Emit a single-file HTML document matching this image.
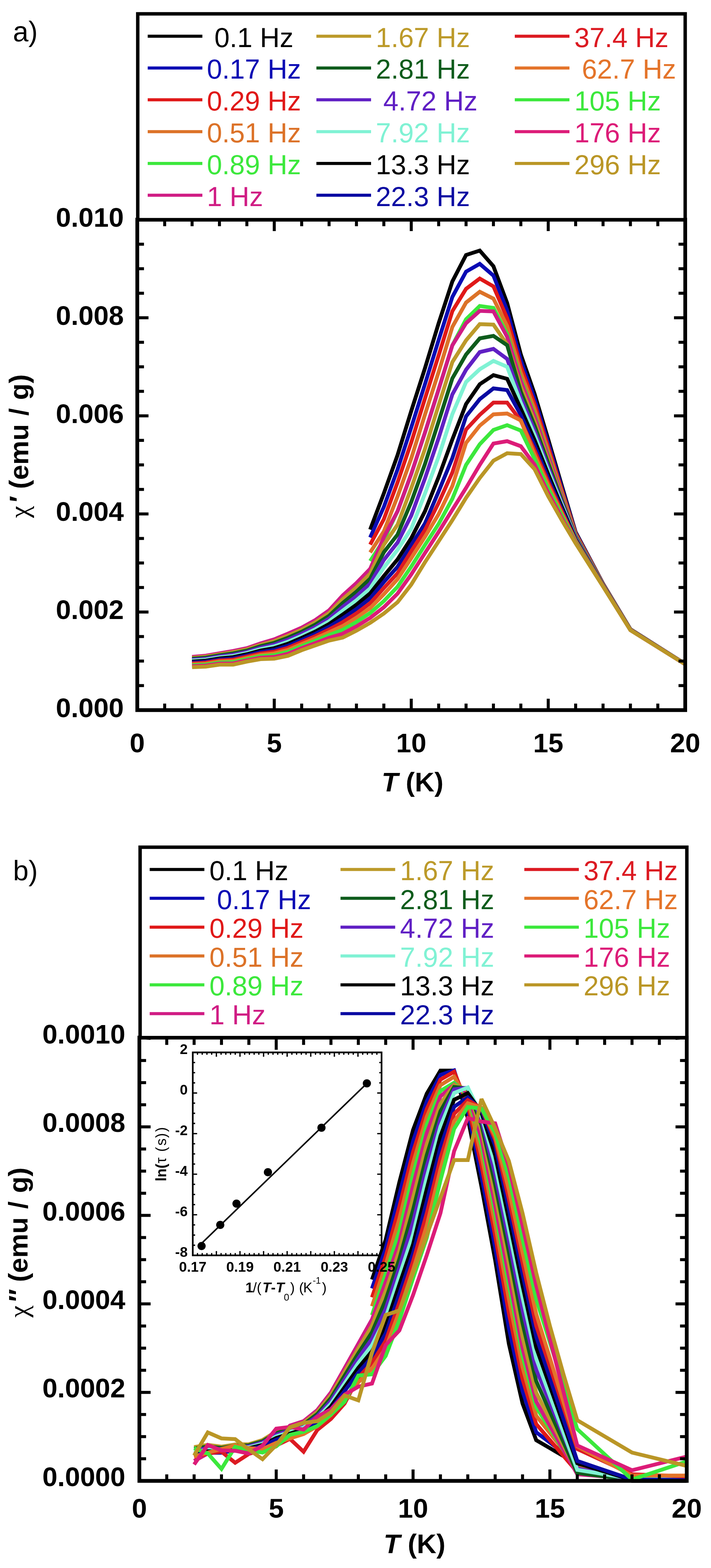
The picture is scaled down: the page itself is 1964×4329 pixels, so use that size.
<!DOCTYPE html>
<html><head><meta charset="utf-8"><title>chi ac</title>
<style>html,body{margin:0;padding:0;background:#fff;} svg{display:block;}</style>
</head><body>
<svg width="1964" height="4329" viewBox="0 0 1964 4329"><rect width="1964" height="4329" fill="#fff"/><text x="35.7" y="113.5" font-family="'Liberation Sans', Arial, Helvetica, sans-serif" font-size="77">a)</text><g fill="none" stroke-width="10.6" stroke-linejoin="miter" stroke-miterlimit="3" stroke-linecap="butt"><polyline points="1022.5,1462.2 1060.3,1362.0 1098.2,1256.4 1136.0,1134.6 1173.8,1016.8 1211.7,892.2 1249.5,777.1 1287.4,704.0 1325.2,691.8 1363.0,735.1 1400.9,836.7 1438.7,978.8 1476.6,1087.2 1514.4,1213.1 1552.2,1341.7 1590.1,1469.0 1665.8,1611.2 1741.4,1737.1 1892.8,1833.2" stroke="#000000"/><polyline points="1022.5,1483.8 1060.3,1399.3 1098.2,1295.7 1136.0,1179.9 1173.8,1060.6 1211.7,938.5 1249.5,819.9 1287.4,750.0 1325.2,728.4 1363.0,760.9 1400.9,857.2 1438.7,994.9 1476.6,1100.9 1514.4,1223.5 1552.2,1348.0 1590.1,1471.1 1665.8,1611.7 1741.4,1737.3 1892.8,1833.3" stroke="#0A0AB4"/><polyline points="1022.5,1503.6 1060.3,1433.4 1098.2,1331.6 1136.0,1221.3 1173.8,1100.6 1211.7,980.9 1249.5,859.1 1287.4,797.4 1325.2,769.0 1363.0,790.6 1400.9,878.7 1438.7,1011.8 1476.6,1115.2 1514.4,1234.3 1552.2,1354.5 1590.1,1473.2 1665.8,1612.3 1741.4,1737.5 1892.8,1833.3" stroke="#E01818"/><polyline points="1022.5,1525.2 1060.3,1467.1 1098.2,1370.4 1136.0,1265.3 1173.8,1144.8 1211.7,1026.7 1249.5,902.7 1287.4,835.3 1325.2,805.5 1363.0,824.5 1400.9,900.2 1438.7,1028.6 1476.6,1129.6 1514.4,1245.1 1552.2,1361.1 1590.1,1475.4 1665.8,1612.8 1741.4,1737.6 1892.8,1833.4" stroke="#DC7228"/><polyline points="1022.5,1548.9 1060.3,1490.8 1098.2,1411.3 1136.0,1308.4 1173.8,1194.5 1211.7,1074.7 1249.5,953.5 1287.4,881.4 1325.2,844.8 1363.0,850.2 1400.9,922.3 1438.7,1045.9 1476.6,1144.4 1514.4,1256.3 1552.2,1367.8 1590.1,1477.6 1665.8,1613.4 1741.4,1737.8 1892.8,1833.4" stroke="#3CE83C"/><polyline points="530.6,1813.6 568.4,1810.2 606.2,1803.6 644.1,1797.1 681.9,1789.5 719.8,1776.4 757.6,1765.1 795.4,1749.5 833.3,1732.9 871.1,1711.8 909.0,1685.0 946.8,1643.7 984.6,1609.8 1022.5,1570.5 1060.3,1483.3 1098.2,1411.3 1136.0,1308.4 1173.8,1194.5 1211.7,1074.7 1249.5,953.5 1287.4,892.2 1325.2,858.3 1363.0,859.7 1400.9,930.1 1438.7,1052.0 1476.6,1149.6 1514.4,1260.2 1552.2,1370.2 1590.1,1478.3 1665.8,1613.6 1741.4,1737.9 1892.8,1833.4" stroke="#D01C84"/><polyline points="530.6,1816.2 568.4,1813.0 606.2,1806.4 644.1,1800.5 681.9,1792.9 719.8,1780.3 757.6,1770.0 795.4,1755.1 833.3,1738.5 871.1,1718.1 909.0,1692.6 946.8,1654.2 984.6,1621.8 1022.5,1584.1 1060.3,1504.0 1098.2,1448.6 1136.0,1347.7 1173.8,1239.8 1211.7,1118.5 1249.5,999.8 1287.4,939.6 1325.2,894.9 1363.0,896.3 1400.9,951.0 1438.7,1068.3 1476.6,1163.5 1514.4,1270.7 1552.2,1376.5 1590.1,1480.4 1665.8,1614.1 1741.4,1738.1 1892.8,1833.5" stroke="#BC9A2A"/><polyline points="530.6,1818.8 568.4,1815.7 606.2,1809.3 644.1,1804.0 681.9,1796.2 719.8,1784.2 757.6,1774.8 795.4,1760.7 833.3,1744.2 871.1,1724.5 909.0,1700.2 946.8,1664.8 984.6,1633.7 1022.5,1597.6 1060.3,1524.7 1098.2,1475.9 1136.0,1385.7 1173.8,1281.3 1211.7,1163.3 1249.5,1044.6 1287.4,978.8 1325.2,934.2 1363.0,927.4 1400.9,953.1 1438.7,1081.9 1476.6,1175.1 1514.4,1279.5 1552.2,1381.8 1590.1,1482.2 1665.8,1614.6 1741.4,1738.2 1892.8,1833.5" stroke="#0E5C1C"/><polyline points="530.6,1821.3 568.4,1818.5 606.2,1812.1 644.1,1807.4 681.9,1799.6 719.8,1788.2 757.6,1779.7 795.4,1766.2 833.3,1749.8 871.1,1730.9 909.0,1707.7 946.8,1675.4 984.6,1645.6 1022.5,1611.2 1060.3,1545.9 1098.2,1497.8 1136.0,1423.4 1173.8,1321.1 1211.7,1209.1 1249.5,1088.9 1287.4,1020.8 1325.2,972.1 1363.0,963.3 1400.9,991.0 1438.7,1097.5 1476.6,1188.5 1514.4,1289.6 1552.2,1387.9 1590.1,1484.2 1665.8,1615.1 1741.4,1738.4 1892.8,1833.6" stroke="#6020C4"/><polyline points="530.6,1823.9 568.4,1821.2 606.2,1815.0 644.1,1810.9 681.9,1802.9 719.8,1792.1 757.6,1784.5 795.4,1771.8 833.3,1755.5 871.1,1737.2 909.0,1715.3 946.8,1686.0 984.6,1657.6 1022.5,1624.7 1060.3,1566.9 1098.2,1517.9 1136.0,1459.7 1173.8,1362.9 1211.7,1260.7 1249.5,1143.5 1287.4,1054.7 1325.2,1019.5 1363.0,996.5 1400.9,1012.7 1438.7,1112.4 1476.6,1201.1 1514.4,1299.2 1552.2,1393.7 1590.1,1486.1 1665.8,1615.6 1741.4,1738.6 1892.8,1833.6" stroke="#80F2D4"/><polyline points="530.6,1826.5 568.4,1824.0 606.2,1817.8 644.1,1814.3 681.9,1806.3 719.8,1796.1 757.6,1789.4 795.4,1777.4 833.3,1761.1 871.1,1743.6 909.0,1722.9 946.8,1696.6 984.6,1669.5 1022.5,1638.2 1060.3,1590.4 1098.2,1544.4 1136.0,1486.0 1173.8,1411.7 1211.7,1316.8 1249.5,1213.3 1287.4,1115.6 1325.2,1060.9 1363.0,1035.7 1400.9,1045.9 1438.7,1128.7 1476.6,1215.1 1514.4,1309.7 1552.2,1400.0 1590.1,1488.2 1665.8,1616.2 1741.4,1738.8 1892.8,1833.6" stroke="#000000"/><polyline points="530.6,1829.1 568.4,1826.7 606.2,1820.7 644.1,1817.8 681.9,1809.7 719.8,1800.0 757.6,1794.2 795.4,1782.9 833.3,1766.8 871.1,1750.0 909.0,1730.5 946.8,1707.2 984.6,1681.5 1022.5,1651.8 1060.3,1606.8 1098.2,1564.7 1136.0,1504.7 1173.8,1445.3 1211.7,1356.7 1249.5,1264.7 1287.4,1149.5 1325.2,1102.1 1363.0,1072.3 1400.9,1076.9 1438.7,1145.6 1476.6,1229.4 1514.4,1320.5 1552.2,1406.6 1590.1,1490.3 1665.8,1616.7 1741.4,1738.9 1892.8,1833.7" stroke="#0A0AA2"/><polyline points="530.6,1831.7 568.4,1829.5 606.2,1823.6 644.1,1821.2 681.9,1813.0 719.8,1803.9 757.6,1799.1 795.4,1788.5 833.3,1772.4 871.1,1756.3 909.0,1738.1 946.8,1717.8 984.6,1693.4 1022.5,1665.3 1060.3,1623.5 1098.2,1582.6 1136.0,1521.6 1173.8,1463.4 1211.7,1388.3 1249.5,1304.6 1287.4,1186.0 1325.2,1145.4 1363.0,1111.5 1400.9,1111.5 1438.7,1161.7 1476.6,1243.2 1514.4,1330.9 1552.2,1412.8 1590.1,1492.4 1665.8,1617.3 1741.4,1739.1 1892.8,1833.7" stroke="#DC1A22"/><polyline points="530.6,1834.3 568.4,1832.3 606.2,1826.4 644.1,1824.6 681.9,1816.4 719.8,1807.9 757.6,1803.9 795.4,1794.1 833.3,1778.1 871.1,1762.7 909.0,1745.7 946.8,1728.4 984.6,1705.3 1022.5,1678.9 1060.3,1640.5 1098.2,1599.0 1136.0,1541.2 1173.8,1482.2 1211.7,1419.4 1249.5,1341.9 1287.4,1222.6 1325.2,1175.2 1363.0,1144.0 1400.9,1141.7 1438.7,1160.7 1476.6,1255.0 1514.4,1339.8 1552.2,1418.2 1590.1,1494.1 1665.8,1617.7 1741.4,1739.3 1892.8,1833.8" stroke="#E4742A"/><polyline points="530.6,1836.9 568.4,1835.0 606.2,1829.3 644.1,1828.1 681.9,1819.7 719.8,1811.8 757.6,1808.8 795.4,1799.6 833.3,1783.7 871.1,1769.0 909.0,1753.3 946.8,1738.9 984.6,1717.3 1022.5,1692.4 1060.3,1659.5 1098.2,1619.8 1136.0,1564.2 1173.8,1504.7 1211.7,1446.3 1249.5,1377.3 1287.4,1283.5 1325.2,1226.6 1363.0,1187.0 1400.9,1173.8 1438.7,1188.7 1476.6,1267.1 1514.4,1349.0 1552.2,1423.7 1590.1,1495.9 1665.8,1618.2 1741.4,1739.4 1892.8,1833.8" stroke="#3CE83C"/><polyline points="530.6,1839.4 568.4,1837.8 606.2,1832.1 644.1,1831.5 681.9,1823.1 719.8,1815.7 757.6,1813.6 795.4,1805.2 833.3,1789.4 871.1,1775.4 909.0,1760.9 946.8,1749.5 984.6,1729.2 1022.5,1705.9 1060.3,1676.4 1098.2,1638.9 1136.0,1585.8 1173.8,1527.0 1211.7,1468.5 1249.5,1407.5 1287.4,1347.1 1325.2,1283.5 1363.0,1224.6 1400.9,1218.0 1438.7,1232.0 1476.6,1282.7 1514.4,1360.7 1552.2,1430.8 1590.1,1498.3 1665.8,1618.8 1741.4,1739.6 1892.8,1833.9" stroke="#DC1C78"/><polyline points="530.6,1842.0 568.4,1840.5 606.2,1835.0 644.1,1835.0 681.9,1826.5 719.8,1819.7 757.6,1818.5 795.4,1810.7 833.3,1795.0 871.1,1781.8 909.0,1768.5 946.8,1760.1 984.6,1741.2 1022.5,1719.5 1060.3,1693.8 1098.2,1662.6 1136.0,1613.9 1173.8,1552.4 1211.7,1494.3 1249.5,1436.1 1287.4,1374.5 1325.2,1319.8 1363.0,1271.9 1400.9,1251.3 1438.7,1253.7 1476.6,1295.1 1514.4,1370.2 1552.2,1436.5 1590.1,1500.1 1665.8,1619.3 1741.4,1739.8 1892.8,1833.9" stroke="#BA9626"/></g><g stroke="#000" stroke-width="8.3" fill="none"><line x1="379.2" y1="1960.5" x2="379.2" y2="1929.0"/><line x1="379.2" y1="606.5" x2="379.2" y2="638.0"/><line x1="454.9" y1="1960.5" x2="454.9" y2="1942.5"/><line x1="454.9" y1="606.5" x2="454.9" y2="624.5"/><line x1="530.6" y1="1960.5" x2="530.6" y2="1942.5"/><line x1="530.6" y1="606.5" x2="530.6" y2="624.5"/><line x1="606.2" y1="1960.5" x2="606.2" y2="1942.5"/><line x1="606.2" y1="606.5" x2="606.2" y2="624.5"/><line x1="681.9" y1="1960.5" x2="681.9" y2="1942.5"/><line x1="681.9" y1="606.5" x2="681.9" y2="624.5"/><line x1="757.6" y1="1960.5" x2="757.6" y2="1929.0"/><line x1="757.6" y1="606.5" x2="757.6" y2="638.0"/><line x1="833.3" y1="1960.5" x2="833.3" y2="1942.5"/><line x1="833.3" y1="606.5" x2="833.3" y2="624.5"/><line x1="909.0" y1="1960.5" x2="909.0" y2="1942.5"/><line x1="909.0" y1="606.5" x2="909.0" y2="624.5"/><line x1="984.6" y1="1960.5" x2="984.6" y2="1942.5"/><line x1="984.6" y1="606.5" x2="984.6" y2="624.5"/><line x1="1060.3" y1="1960.5" x2="1060.3" y2="1942.5"/><line x1="1060.3" y1="606.5" x2="1060.3" y2="624.5"/><line x1="1136.0" y1="1960.5" x2="1136.0" y2="1929.0"/><line x1="1136.0" y1="606.5" x2="1136.0" y2="638.0"/><line x1="1211.7" y1="1960.5" x2="1211.7" y2="1942.5"/><line x1="1211.7" y1="606.5" x2="1211.7" y2="624.5"/><line x1="1287.4" y1="1960.5" x2="1287.4" y2="1942.5"/><line x1="1287.4" y1="606.5" x2="1287.4" y2="624.5"/><line x1="1363.0" y1="1960.5" x2="1363.0" y2="1942.5"/><line x1="1363.0" y1="606.5" x2="1363.0" y2="624.5"/><line x1="1438.7" y1="1960.5" x2="1438.7" y2="1942.5"/><line x1="1438.7" y1="606.5" x2="1438.7" y2="624.5"/><line x1="1514.4" y1="1960.5" x2="1514.4" y2="1929.0"/><line x1="1514.4" y1="606.5" x2="1514.4" y2="638.0"/><line x1="1590.1" y1="1960.5" x2="1590.1" y2="1942.5"/><line x1="1590.1" y1="606.5" x2="1590.1" y2="624.5"/><line x1="1665.8" y1="1960.5" x2="1665.8" y2="1942.5"/><line x1="1665.8" y1="606.5" x2="1665.8" y2="624.5"/><line x1="1741.4" y1="1960.5" x2="1741.4" y2="1942.5"/><line x1="1741.4" y1="606.5" x2="1741.4" y2="624.5"/><line x1="1817.1" y1="1960.5" x2="1817.1" y2="1942.5"/><line x1="1817.1" y1="606.5" x2="1817.1" y2="624.5"/><line x1="1892.8" y1="1960.5" x2="1892.8" y2="1929.0"/><line x1="1892.8" y1="606.5" x2="1892.8" y2="638.0"/><line x1="379.2" y1="1960.5" x2="410.2" y2="1960.5"/><line x1="1892.8" y1="1960.5" x2="1861.8" y2="1960.5"/><line x1="379.2" y1="1892.8" x2="397.7" y2="1892.8"/><line x1="1892.8" y1="1892.8" x2="1874.3" y2="1892.8"/><line x1="379.2" y1="1825.1" x2="397.7" y2="1825.1"/><line x1="1892.8" y1="1825.1" x2="1874.3" y2="1825.1"/><line x1="379.2" y1="1757.4" x2="397.7" y2="1757.4"/><line x1="1892.8" y1="1757.4" x2="1874.3" y2="1757.4"/><line x1="379.2" y1="1689.7" x2="410.2" y2="1689.7"/><line x1="1892.8" y1="1689.7" x2="1861.8" y2="1689.7"/><line x1="379.2" y1="1622.0" x2="397.7" y2="1622.0"/><line x1="1892.8" y1="1622.0" x2="1874.3" y2="1622.0"/><line x1="379.2" y1="1554.3" x2="397.7" y2="1554.3"/><line x1="1892.8" y1="1554.3" x2="1874.3" y2="1554.3"/><line x1="379.2" y1="1486.6" x2="397.7" y2="1486.6"/><line x1="1892.8" y1="1486.6" x2="1874.3" y2="1486.6"/><line x1="379.2" y1="1418.9" x2="410.2" y2="1418.9"/><line x1="1892.8" y1="1418.9" x2="1861.8" y2="1418.9"/><line x1="379.2" y1="1351.2" x2="397.7" y2="1351.2"/><line x1="1892.8" y1="1351.2" x2="1874.3" y2="1351.2"/><line x1="379.2" y1="1283.5" x2="397.7" y2="1283.5"/><line x1="1892.8" y1="1283.5" x2="1874.3" y2="1283.5"/><line x1="379.2" y1="1215.8" x2="397.7" y2="1215.8"/><line x1="1892.8" y1="1215.8" x2="1874.3" y2="1215.8"/><line x1="379.2" y1="1148.1" x2="410.2" y2="1148.1"/><line x1="1892.8" y1="1148.1" x2="1861.8" y2="1148.1"/><line x1="379.2" y1="1080.4" x2="397.7" y2="1080.4"/><line x1="1892.8" y1="1080.4" x2="1874.3" y2="1080.4"/><line x1="379.2" y1="1012.7" x2="397.7" y2="1012.7"/><line x1="1892.8" y1="1012.7" x2="1874.3" y2="1012.7"/><line x1="379.2" y1="945.0" x2="397.7" y2="945.0"/><line x1="1892.8" y1="945.0" x2="1874.3" y2="945.0"/><line x1="379.2" y1="877.3" x2="410.2" y2="877.3"/><line x1="1892.8" y1="877.3" x2="1861.8" y2="877.3"/><line x1="379.2" y1="809.6" x2="397.7" y2="809.6"/><line x1="1892.8" y1="809.6" x2="1874.3" y2="809.6"/><line x1="379.2" y1="741.9" x2="397.7" y2="741.9"/><line x1="1892.8" y1="741.9" x2="1874.3" y2="741.9"/><line x1="379.2" y1="674.2" x2="397.7" y2="674.2"/><line x1="1892.8" y1="674.2" x2="1874.3" y2="674.2"/><line x1="379.2" y1="606.5" x2="410.2" y2="606.5"/><line x1="1892.8" y1="606.5" x2="1861.8" y2="606.5"/></g><rect x="379.2" y="606.5" width="1513.6" height="1354.0" fill="none" stroke="#000" stroke-width="10.4"/><g font-family="'Liberation Sans', Arial, Helvetica, sans-serif" font-weight="bold" font-size="75" text-anchor="end" fill="#000"><text x="342" y="1980.0">0.000</text><text x="342" y="1709.2">0.002</text><text x="342" y="1438.4">0.004</text><text x="342" y="1167.6">0.006</text><text x="342" y="896.8">0.008</text><text x="342" y="626.0">0.010</text></g><g font-family="'Liberation Sans', Arial, Helvetica, sans-serif" font-weight="bold" font-size="75" text-anchor="middle" fill="#000"><text x="379.2" y="2076.5">0</text><text x="757.6" y="2076.5">5</text><text x="1136.0" y="2076.5">10</text><text x="1514.4" y="2076.5">15</text><text x="1892.8" y="2076.5">20</text></g><rect x="380.5" y="38.2" width="1512.2" height="568.3" fill="#fff" stroke="#000" stroke-width="9.5"/><g stroke-width="8.5"><line x1="408" y1="100.0" x2="559" y2="100.0" stroke="#000000"/><line x1="408" y1="187.8" x2="559" y2="187.8" stroke="#0A0AB4"/><line x1="408" y1="275.6" x2="559" y2="275.6" stroke="#E01818"/><line x1="408" y1="363.4" x2="559" y2="363.4" stroke="#DC7228"/><line x1="408" y1="451.2" x2="559" y2="451.2" stroke="#3CE83C"/><line x1="408" y1="539.0" x2="559" y2="539.0" stroke="#D01C84"/><line x1="874" y1="100.0" x2="1025" y2="100.0" stroke="#BC9A2A"/><line x1="874" y1="187.8" x2="1025" y2="187.8" stroke="#0E5C1C"/><line x1="874" y1="275.6" x2="1025" y2="275.6" stroke="#6020C4"/><line x1="874" y1="363.4" x2="1025" y2="363.4" stroke="#80F2D4"/><line x1="874" y1="451.2" x2="1025" y2="451.2" stroke="#000000"/><line x1="874" y1="539.0" x2="1025" y2="539.0" stroke="#0A0AA2"/><line x1="1422" y1="100.0" x2="1573" y2="100.0" stroke="#DC1A22"/><line x1="1422" y1="187.8" x2="1573" y2="187.8" stroke="#E4742A"/><line x1="1422" y1="275.6" x2="1573" y2="275.6" stroke="#3CE83C"/><line x1="1422" y1="363.4" x2="1573" y2="363.4" stroke="#DC1C78"/><line x1="1422" y1="451.2" x2="1573" y2="451.2" stroke="#BA9626"/></g><g font-family="'Liberation Sans', Arial, Helvetica, sans-serif" font-size="75.5"><text x="592.2" y="129.5" fill="#000000">0.1 Hz</text><text x="571.4" y="217.3" fill="#0A0AB4">0.17 Hz</text><text x="571.4" y="305.1" fill="#E01818">0.29 Hz</text><text x="571.4" y="392.9" fill="#DC7228">0.51 Hz</text><text x="571.4" y="480.7" fill="#3CE83C">0.89 Hz</text><text x="571.4" y="568.5" fill="#D01C84">1 Hz</text><text x="1038.0" y="129.5" fill="#BC9A2A">1.67 Hz</text><text x="1038.0" y="217.3" fill="#0E5C1C">2.81 Hz</text><text x="1058.8" y="305.1" fill="#6020C4">4.72 Hz</text><text x="1038.0" y="392.9" fill="#80F2D4">7.92 Hz</text><text x="1038.0" y="480.7" fill="#000000">13.3 Hz</text><text x="1038.0" y="568.5" fill="#0A0AA2">22.3 Hz</text><text x="1586.5" y="129.5" fill="#DC1A22">37.4 Hz</text><text x="1607.3" y="217.3" fill="#E4742A">62.7 Hz</text><text x="1586.5" y="305.1" fill="#3CE83C">105 Hz</text><text x="1586.5" y="392.9" fill="#DC1C78">176 Hz</text><text x="1586.5" y="480.7" fill="#BA9626">296 Hz</text></g><text x="1139.5" y="2184.8" font-family="'Liberation Sans', Arial, Helvetica, sans-serif" font-weight="bold" font-size="75" text-anchor="middle"><tspan font-style="italic">T</tspan> (K)</text><text transform="translate(77.5,1430) rotate(-90)" font-family="'Liberation Sans', Arial, Helvetica, sans-serif" font-size="75" font-weight="bold" word-spacing="2"><tspan font-weight="normal" font-family="Liberation Serif, serif">χ</tspan><tspan font-style="italic" dx="6">′</tspan> (emu / g)</text><text x="36" y="2431" font-family="'Liberation Sans', Arial, Helvetica, sans-serif" font-size="77">b)</text><rect x="532.5" y="2905.5" width="521.5" height="560.4000000000001" fill="#fff" stroke="#000" stroke-width="4.6"/><path d="M532.5 3465.9v-12M532.5 2905.5v12M545.5 3465.9v-6.5M545.5 2905.5v6.5M558.6 3465.9v-6.5M558.6 2905.5v6.5M571.6 3465.9v-6.5M571.6 2905.5v6.5M584.7 3465.9v-6.5M584.7 2905.5v6.5M597.7 3465.9v-12M597.7 2905.5v12M610.7 3465.9v-6.5M610.7 2905.5v6.5M623.8 3465.9v-6.5M623.8 2905.5v6.5M636.8 3465.9v-6.5M636.8 2905.5v6.5M649.8 3465.9v-6.5M649.8 2905.5v6.5M662.9 3465.9v-12M662.9 2905.5v12M675.9 3465.9v-6.5M675.9 2905.5v6.5M688.9 3465.9v-6.5M688.9 2905.5v6.5M702.0 3465.9v-6.5M702.0 2905.5v6.5M715.0 3465.9v-6.5M715.0 2905.5v6.5M728.1 3465.9v-12M728.1 2905.5v12M741.1 3465.9v-6.5M741.1 2905.5v6.5M754.1 3465.9v-6.5M754.1 2905.5v6.5M767.2 3465.9v-6.5M767.2 2905.5v6.5M780.2 3465.9v-6.5M780.2 2905.5v6.5M793.2 3465.9v-12M793.2 2905.5v12M806.3 3465.9v-6.5M806.3 2905.5v6.5M819.3 3465.9v-6.5M819.3 2905.5v6.5M832.4 3465.9v-6.5M832.4 2905.5v6.5M845.4 3465.9v-6.5M845.4 2905.5v6.5M858.4 3465.9v-12M858.4 2905.5v12M871.5 3465.9v-6.5M871.5 2905.5v6.5M884.5 3465.9v-6.5M884.5 2905.5v6.5M897.5 3465.9v-6.5M897.5 2905.5v6.5M910.6 3465.9v-6.5M910.6 2905.5v6.5M923.6 3465.9v-12M923.6 2905.5v12M936.7 3465.9v-6.5M936.7 2905.5v6.5M949.7 3465.9v-6.5M949.7 2905.5v6.5M962.7 3465.9v-6.5M962.7 2905.5v6.5M975.8 3465.9v-6.5M975.8 2905.5v6.5M988.8 3465.9v-12M988.8 2905.5v12M1001.9 3465.9v-6.5M1001.9 2905.5v6.5M1014.9 3465.9v-6.5M1014.9 2905.5v6.5M1027.9 3465.9v-6.5M1027.9 2905.5v6.5M1041.0 3465.9v-6.5M1041.0 2905.5v6.5M1054.0 3465.9v-12M1054.0 2905.5v12M532.5 3465.9h12M1054.0 3465.9h-12M532.5 3437.9h6.5M1054.0 3437.9h-6.5M532.5 3409.9h6.5M1054.0 3409.9h-6.5M532.5 3381.8h6.5M1054.0 3381.8h-6.5M532.5 3353.8h12M1054.0 3353.8h-12M532.5 3325.8h6.5M1054.0 3325.8h-6.5M532.5 3297.8h6.5M1054.0 3297.8h-6.5M532.5 3269.8h6.5M1054.0 3269.8h-6.5M532.5 3241.7h12M1054.0 3241.7h-12M532.5 3213.7h6.5M1054.0 3213.7h-6.5M532.5 3185.7h6.5M1054.0 3185.7h-6.5M532.5 3157.7h6.5M1054.0 3157.7h-6.5M532.5 3129.7h12M1054.0 3129.7h-12M532.5 3101.6h6.5M1054.0 3101.6h-6.5M532.5 3073.6h6.5M1054.0 3073.6h-6.5M532.5 3045.6h6.5M1054.0 3045.6h-6.5M532.5 3017.6h12M1054.0 3017.6h-12M532.5 2989.6h6.5M1054.0 2989.6h-6.5M532.5 2961.5h6.5M1054.0 2961.5h-6.5M532.5 2933.5h6.5M1054.0 2933.5h-6.5M532.5 2905.5h12M1054.0 2905.5h-12" stroke="#000" stroke-width="3.6" fill="none"/><line x1="553" y1="3436.5" x2="1012" y2="2992.5" stroke="#000" stroke-width="4.2"/><circle cx="1013.4" cy="2991" r="11.3" fill="#000"/><circle cx="888" cy="3113.5" r="11.3" fill="#000"/><circle cx="740.1" cy="3236.3" r="11.3" fill="#000"/><circle cx="653.3" cy="3323.1" r="11.3" fill="#000"/><circle cx="608.4" cy="3381.8" r="11.3" fill="#000"/><circle cx="556.8" cy="3440.1" r="11.3" fill="#000"/><g fill="none" stroke-width="10.6" stroke-linejoin="miter" stroke-miterlimit="3" stroke-linecap="butt"><polyline points="1027.6,3532.6 1065.4,3422.7 1103.2,3263.9 1141.0,3119.7 1178.8,3019.6 1216.6,2955.8 1254.4,2955.8 1292.2,3086.7 1330.0,3276.1 1367.8,3478.9 1405.6,3709.8 1443.4,3874.7 1481.2,3976.1 1594.6,4042.1 1745.8,4088.5 1897.0,4088.5" stroke="#000000"/><polyline points="1027.6,3557.2 1065.4,3446.0 1103.2,3297.5 1141.0,3150.3 1178.8,3040.8 1216.6,2967.5 1254.4,2955.2 1292.2,3068.5 1330.0,3246.8 1367.8,3445.1 1405.6,3666.7 1443.4,3840.8 1481.2,3954.2 1594.6,4039.6 1745.8,4086.1 1897.0,4087.3" stroke="#0A0AB4"/><polyline points="1027.6,3581.8 1065.4,3469.3 1103.2,3331.2 1141.0,3180.8 1178.8,3062.0 1216.6,2980.6 1254.4,2958.9 1292.2,3051.7 1330.0,3218.0 1367.8,3412.2 1405.6,3625.3 1443.4,3807.4 1481.2,3931.7 1594.6,4064.1 1745.8,4084.8 1897.0,4086.1" stroke="#E01818"/><polyline points="1027.6,3606.4 1065.4,3492.6 1103.2,3364.9 1141.0,3211.4 1178.8,3083.2 1216.6,2996.0 1254.4,2972.5 1292.2,3036.5 1330.0,3189.7 1367.8,3380.0 1405.6,3585.7 1443.4,3774.8 1481.2,3908.7 1594.6,4051.8 1745.8,4083.6 1897.0,4086.1" stroke="#DC7228"/><polyline points="1027.6,3631.0 1065.4,3515.9 1103.2,3398.5 1141.0,3241.9 1178.8,3104.5 1216.6,3011.8 1254.4,2989.4 1292.2,3024.0 1330.0,3162.0 1367.8,3348.6 1405.6,3547.9 1443.4,3742.7 1481.2,3885.2 1594.6,4064.1 1745.8,4086.1 1897.0,4084.8" stroke="#3CE83C"/><polyline points="536.2,4033.5 574.0,4012.8 611.8,3996.9 649.6,4003.0 687.4,4000.5 725.2,3976.1 763.0,3976.1 800.8,3935.8 838.6,3923.6 876.4,3893.0 914.2,3844.2 952.0,3777.0 989.8,3709.8 1027.6,3642.5 1065.4,3539.6 1103.2,3429.3 1141.0,3273.4 1178.8,3128.3 1216.6,3027.1 1254.4,2994.6 1292.2,3017.4 1330.0,3143.8 1367.8,3328.1 1405.6,3523.7 1443.4,3721.7 1481.2,3869.3 1594.6,4070.2 1745.8,4082.4 1897.0,4086.1" stroke="#D01C84"/><polyline points="536.2,3995.2 574.0,3989.1 611.8,3994.1 649.6,3988.0 687.4,3987.4 725.2,3975.8 763.0,3952.4 800.8,3940.2 838.6,3928.0 876.4,3898.6 914.2,3851.9 952.0,3787.5 989.8,3723.1 1027.6,3660.3 1065.4,3564.2 1103.2,3452.6 1141.0,3307.1 1178.8,3158.9 1216.6,3047.2 1254.4,2995.9 1292.2,3009.0 1330.0,3119.7 1367.8,3298.0 1405.6,3488.2 1443.4,3690.4 1481.2,3844.7 1594.6,4064.1 1745.8,4084.8 1897.0,4086.1" stroke="#BC9A2A"/><polyline points="536.2,3999.6 574.0,3993.5 611.8,3997.4 649.6,3991.3 687.4,3990.2 725.2,3979.1 763.0,3956.9 800.8,3944.7 838.6,3932.5 876.4,3904.1 914.2,3859.7 952.0,3798.1 989.8,3736.4 1027.6,3678.2 1065.4,3588.8 1103.2,3475.9 1141.0,3340.7 1178.8,3189.5 1216.6,3068.1 1254.4,3000.9 1292.2,3005.1 1330.0,3105.1 1367.8,3270.1 1405.6,3456.4 1443.4,3652.8 1481.2,3813.1 1594.6,4066.5 1745.8,4086.1 1897.0,4087.3" stroke="#0E5C1C"/><polyline points="536.2,4004.1 574.0,3998.0 611.8,4000.8 649.6,3994.7 687.4,3993.0 725.2,3982.4 763.0,3961.3 800.8,3949.1 838.6,3936.9 876.4,3909.7 914.2,3867.5 952.0,3808.6 989.8,3749.8 1027.6,3696.0 1065.4,3613.4 1103.2,3499.2 1141.0,3374.4 1178.8,3220.0 1216.6,3089.3 1254.4,3007.5 1292.2,3002.9 1330.0,3092.4 1367.8,3242.7 1405.6,3425.7 1443.4,3616.4 1481.2,3781.6 1594.6,4054.3 1745.8,4084.8 1897.0,4086.1" stroke="#6020C4"/><polyline points="536.2,4008.5 574.0,4002.4 611.8,4004.1 649.6,3998.0 687.4,3995.8 725.2,3985.8 763.0,3965.8 800.8,3953.6 838.6,3941.3 876.4,3915.2 914.2,3875.3 952.0,3819.2 989.8,3763.1 1027.6,3713.9 1065.4,3638.0 1103.2,3522.5 1141.0,3408.1 1178.8,3250.6 1216.6,3110.5 1254.4,3017.5 1292.2,3002.2 1330.0,3081.3 1367.8,3215.9 1405.6,3395.7 1443.4,3581.7 1481.2,3750.7 1594.6,4058.0 1745.8,4082.4 1897.0,4086.1" stroke="#80F2D4"/><polyline points="536.2,4013.0 574.0,4006.9 611.8,4007.4 649.6,4001.3 687.4,3998.5 725.2,3989.1 763.0,3970.2 800.8,3958.0 838.6,3945.8 876.4,3920.8 914.2,3883.0 952.0,3829.7 989.8,3776.4 1027.6,3730.6 1065.4,3660.4 1103.2,3546.6 1141.0,3435.9 1178.8,3282.9 1216.6,3137.0 1254.4,3036.2 1292.2,3017.9 1330.0,3071.9 1367.8,3189.5 1405.6,3366.5 1443.4,3548.8 1481.2,3720.4 1594.6,4039.6 1745.8,4086.1 1897.0,4087.3" stroke="#000000"/><polyline points="536.2,4017.4 574.0,4011.3 611.8,4010.8 649.6,4004.6 687.4,4001.3 725.2,3992.4 763.0,3974.7 800.8,3962.4 838.6,3950.2 876.4,3926.3 914.2,3890.8 952.0,3840.3 989.8,3789.7 1027.6,3746.6 1065.4,3681.1 1103.2,3571.2 1141.0,3459.2 1178.8,3316.6 1216.6,3167.6 1254.4,3055.5 1292.2,3029.8 1330.0,3064.7 1367.8,3163.7 1405.6,3338.1 1443.4,3517.6 1481.2,3690.8 1594.6,4033.5 1745.8,4084.8 1897.0,4086.1" stroke="#0A0AA2"/><polyline points="536.2,4022.5 574.0,4012.8 611.8,4007.9 649.6,4038.4 687.4,4014.0 725.2,4003.0 763.0,3990.8 800.8,3972.4 838.6,4007.9 876.4,3948.0 914.2,3917.5 952.0,3874.7 989.8,3803.1 1027.6,3762.5 1065.4,3701.9 1103.2,3595.8 1141.0,3482.5 1178.8,3350.3 1216.6,3198.1 1254.4,3075.1 1292.2,3037.1 1330.0,3059.5 1367.8,3147.5 1405.6,3310.7 1443.4,3486.8 1481.2,3660.1 1594.6,4000.5 1745.8,4070.2 1897.0,4076.3" stroke="#DC1A22"/><polyline points="536.2,4021.3 574.0,4010.3 611.8,4000.5 649.6,3990.8 687.4,3998.1 725.2,4000.5 763.0,3983.4 800.8,3971.3 838.6,3959.1 876.4,3937.5 914.2,3906.4 952.0,3861.4 989.8,3816.4 1027.6,3778.4 1065.4,3722.6 1103.2,3620.4 1141.0,3505.8 1178.8,3383.9 1216.6,3228.7 1254.4,3095.7 1292.2,3045.9 1330.0,3058.1 1367.8,3138.0 1405.6,3284.4 1443.4,3457.8 1481.2,3627.5 1594.6,3993.2 1745.8,4073.8 1897.0,4073.8" stroke="#E4742A"/><polyline points="536.2,3998.1 574.0,4012.8 611.8,4055.5 649.6,3994.4 687.4,4004.2 725.2,4010.3 763.0,3993.2 800.8,3961.4 838.6,3952.9 876.4,3937.0 914.2,3905.2 952.0,3869.8 989.8,3797.7 1027.6,3794.3 1065.4,3743.3 1103.2,3645.0 1141.0,3529.1 1178.8,3417.6 1216.6,3259.2 1254.4,3116.7 1292.2,3056.0 1330.0,3060.7 1367.8,3127.8 1405.6,3250.2 1443.4,3420.2 1481.2,3586.6 1594.6,3945.6 1745.8,4084.8 1897.0,4034.7" stroke="#3CE83C"/><polyline points="536.2,4043.3 574.0,3989.5 611.8,4004.2 649.6,4005.4 687.4,4012.8 725.2,3990.8 763.0,3944.3 800.8,3939.5 838.6,3946.8 876.4,3911.4 914.2,3890.6 952.0,3850.3 989.8,3828.3 1027.6,3819.7 1065.4,3713.4 1103.2,3673.1 1141.0,3575.4 1178.8,3465.4 1216.6,3349.4 1254.4,3178.3 1292.2,3086.7 1330.0,3096.5 1367.8,3101.4 1405.6,3221.1 1443.4,3384.1 1481.2,3548.9 1594.6,3990.8 1745.8,4059.2 1897.0,4021.3" stroke="#DC1C78"/><polyline points="536.2,4018.4 574.0,3954.7 611.8,3971.2 649.6,3973.2 687.4,4001.9 725.2,4028.6 763.0,3989.5 800.8,3940.7 838.6,3928.5 876.4,3923.6 914.2,3899.1 952.0,3852.7 989.8,3866.2 1027.6,3734.2 1065.4,3630.4 1103.2,3618.1 1141.0,3514.3 1178.8,3410.5 1216.6,3306.6 1254.4,3202.8 1292.2,3202.8 1330.0,3034.2 1367.8,3114.8 1405.6,3205.2 1443.4,3349.4 1481.2,3514.3 1519.0,3660.9 1556.8,3795.3 1594.6,3921.1 1745.8,4010.3 1897.0,4047.0" stroke="#BA9626"/></g><g font-family="'Liberation Sans', Arial, Helvetica, sans-serif" font-weight="bold" font-size="39" fill="#000"><text x="518.5" y="2910.0" text-anchor="end">2</text><text x="518.5" y="3022.1" text-anchor="end">0</text><text x="518.5" y="3134.2" text-anchor="end">-2</text><text x="518.5" y="3246.2" text-anchor="end">-4</text><text x="518.5" y="3358.3" text-anchor="end">-6</text><text x="518.5" y="3470.4" text-anchor="end">-8</text><text x="532.5" y="3511" text-anchor="middle">0.17</text><text x="662.9" y="3511" text-anchor="middle">0.19</text><text x="793.2" y="3511" text-anchor="middle">0.21</text><text x="923.6" y="3511" text-anchor="middle">0.23</text><text x="1054.0" y="3511" text-anchor="middle">0.25</text></g><g font-family="'Liberation Sans', Arial, Helvetica, sans-serif" fill="#000" font-size="38.5"><text y="3567.5"><tspan x="678" font-weight="bold">1</tspan><tspan x="698.5">/(</tspan><tspan x="725" font-weight="bold" font-style="italic">T</tspan><tspan x="748.5" font-weight="bold">-</tspan><tspan x="762" font-weight="bold" font-style="italic">T</tspan><tspan x="801.5">)</tspan><tspan x="826">(</tspan><tspan x="837.5">K</tspan><tspan x="889.5">)</tspan></text><text x="784" y="3590.5" font-size="27">0</text><text x="864" y="3543.5" font-size="25">-1</text></g><g transform="translate(458.6,3259) rotate(-90)" font-family="'Liberation Sans', Arial, Helvetica, sans-serif" font-size="40" fill="#000"><text y="0"><tspan x="-2.5" font-weight="bold">ln(</tspan><tspan x="47.5">τ</tspan><tspan x="79">(</tspan><tspan x="96">s</tspan><tspan x="117.5">)</tspan><tspan x="134">)</tspan></text></g><g stroke="#000" stroke-width="8.3" fill="none"><line x1="385.0" y1="4088.5" x2="385.0" y2="4057.0"/><line x1="385.0" y1="2864.7" x2="385.0" y2="2898.3"/><line x1="460.6" y1="4088.5" x2="460.6" y2="4070.5"/><line x1="460.6" y1="2864.7" x2="460.6" y2="2884.8"/><line x1="536.2" y1="4088.5" x2="536.2" y2="4070.5"/><line x1="536.2" y1="2864.7" x2="536.2" y2="2884.8"/><line x1="611.8" y1="4088.5" x2="611.8" y2="4070.5"/><line x1="611.8" y1="2864.7" x2="611.8" y2="2884.8"/><line x1="687.4" y1="4088.5" x2="687.4" y2="4070.5"/><line x1="687.4" y1="2864.7" x2="687.4" y2="2884.8"/><line x1="763.0" y1="4088.5" x2="763.0" y2="4057.0"/><line x1="763.0" y1="2864.7" x2="763.0" y2="2898.3"/><line x1="838.6" y1="4088.5" x2="838.6" y2="4070.5"/><line x1="838.6" y1="2864.7" x2="838.6" y2="2884.8"/><line x1="914.2" y1="4088.5" x2="914.2" y2="4070.5"/><line x1="914.2" y1="2864.7" x2="914.2" y2="2884.8"/><line x1="989.8" y1="4088.5" x2="989.8" y2="4070.5"/><line x1="989.8" y1="2864.7" x2="989.8" y2="2884.8"/><line x1="1065.4" y1="4088.5" x2="1065.4" y2="4070.5"/><line x1="1065.4" y1="2864.7" x2="1065.4" y2="2884.8"/><line x1="1141.0" y1="4088.5" x2="1141.0" y2="4057.0"/><line x1="1141.0" y1="2864.7" x2="1141.0" y2="2898.3"/><line x1="1216.6" y1="4088.5" x2="1216.6" y2="4070.5"/><line x1="1216.6" y1="2864.7" x2="1216.6" y2="2884.8"/><line x1="1292.2" y1="4088.5" x2="1292.2" y2="4070.5"/><line x1="1292.2" y1="2864.7" x2="1292.2" y2="2884.8"/><line x1="1367.8" y1="4088.5" x2="1367.8" y2="4070.5"/><line x1="1367.8" y1="2864.7" x2="1367.8" y2="2884.8"/><line x1="1443.4" y1="4088.5" x2="1443.4" y2="4070.5"/><line x1="1443.4" y1="2864.7" x2="1443.4" y2="2884.8"/><line x1="1519.0" y1="4088.5" x2="1519.0" y2="4057.0"/><line x1="1519.0" y1="2864.7" x2="1519.0" y2="2898.3"/><line x1="1594.6" y1="4088.5" x2="1594.6" y2="4070.5"/><line x1="1594.6" y1="2864.7" x2="1594.6" y2="2884.8"/><line x1="1670.2" y1="4088.5" x2="1670.2" y2="4070.5"/><line x1="1670.2" y1="2864.7" x2="1670.2" y2="2884.8"/><line x1="1745.8" y1="4088.5" x2="1745.8" y2="4070.5"/><line x1="1745.8" y1="2864.7" x2="1745.8" y2="2884.8"/><line x1="1821.4" y1="4088.5" x2="1821.4" y2="4070.5"/><line x1="1821.4" y1="2864.7" x2="1821.4" y2="2884.8"/><line x1="1897.0" y1="4088.5" x2="1897.0" y2="4057.0"/><line x1="1897.0" y1="2864.7" x2="1897.0" y2="2898.3"/><line x1="385.0" y1="4088.5" x2="416.0" y2="4088.5"/><line x1="1897.0" y1="4088.5" x2="1866.0" y2="4088.5"/><line x1="385.0" y1="4027.4" x2="403.5" y2="4027.4"/><line x1="1897.0" y1="4027.4" x2="1878.5" y2="4027.4"/><line x1="385.0" y1="3966.3" x2="403.5" y2="3966.3"/><line x1="1897.0" y1="3966.3" x2="1878.5" y2="3966.3"/><line x1="385.0" y1="3905.2" x2="403.5" y2="3905.2"/><line x1="1897.0" y1="3905.2" x2="1878.5" y2="3905.2"/><line x1="385.0" y1="3844.2" x2="416.0" y2="3844.2"/><line x1="1897.0" y1="3844.2" x2="1866.0" y2="3844.2"/><line x1="385.0" y1="3783.1" x2="403.5" y2="3783.1"/><line x1="1897.0" y1="3783.1" x2="1878.5" y2="3783.1"/><line x1="385.0" y1="3722.0" x2="403.5" y2="3722.0"/><line x1="1897.0" y1="3722.0" x2="1878.5" y2="3722.0"/><line x1="385.0" y1="3660.9" x2="403.5" y2="3660.9"/><line x1="1897.0" y1="3660.9" x2="1878.5" y2="3660.9"/><line x1="385.0" y1="3599.8" x2="416.0" y2="3599.8"/><line x1="1897.0" y1="3599.8" x2="1866.0" y2="3599.8"/><line x1="385.0" y1="3538.7" x2="403.5" y2="3538.7"/><line x1="1897.0" y1="3538.7" x2="1878.5" y2="3538.7"/><line x1="385.0" y1="3477.7" x2="403.5" y2="3477.7"/><line x1="1897.0" y1="3477.7" x2="1878.5" y2="3477.7"/><line x1="385.0" y1="3416.6" x2="403.5" y2="3416.6"/><line x1="1897.0" y1="3416.6" x2="1878.5" y2="3416.6"/><line x1="385.0" y1="3355.5" x2="416.0" y2="3355.5"/><line x1="1897.0" y1="3355.5" x2="1866.0" y2="3355.5"/><line x1="385.0" y1="3294.4" x2="403.5" y2="3294.4"/><line x1="1897.0" y1="3294.4" x2="1878.5" y2="3294.4"/><line x1="385.0" y1="3233.3" x2="403.5" y2="3233.3"/><line x1="1897.0" y1="3233.3" x2="1878.5" y2="3233.3"/><line x1="385.0" y1="3172.2" x2="403.5" y2="3172.2"/><line x1="1897.0" y1="3172.2" x2="1878.5" y2="3172.2"/><line x1="385.0" y1="3111.1" x2="416.0" y2="3111.1"/><line x1="1897.0" y1="3111.1" x2="1866.0" y2="3111.1"/><line x1="385.0" y1="3050.1" x2="403.5" y2="3050.1"/><line x1="1897.0" y1="3050.1" x2="1878.5" y2="3050.1"/><line x1="385.0" y1="2989.0" x2="403.5" y2="2989.0"/><line x1="1897.0" y1="2989.0" x2="1878.5" y2="2989.0"/><line x1="385.0" y1="2927.9" x2="403.5" y2="2927.9"/><line x1="1897.0" y1="2927.9" x2="1878.5" y2="2927.9"/><line x1="385.0" y1="2864.7" x2="416.0" y2="2866.8"/><line x1="1897.0" y1="2864.7" x2="1866.0" y2="2866.8"/></g><rect x="385.0" y="2864.7" width="1512.0" height="1223.8" fill="none" stroke="#000" stroke-width="10.4"/><g font-family="'Liberation Sans', Arial, Helvetica, sans-serif" font-weight="bold" font-size="75" text-anchor="end" fill="#000"><text x="346.3" y="4102.5">0.0000</text><text x="346.3" y="3858.2">0.0002</text><text x="346.3" y="3613.8">0.0004</text><text x="346.3" y="3369.5">0.0006</text><text x="346.3" y="3125.1">0.0008</text><text x="346.3" y="2880.8">0.0010</text></g><g font-family="'Liberation Sans', Arial, Helvetica, sans-serif" font-weight="bold" font-size="75" text-anchor="middle" fill="#000"><text x="385.0" y="4189.5">0</text><text x="763.0" y="4189.5">5</text><text x="1141.0" y="4189.5">10</text><text x="1519.0" y="4189.5">15</text><text x="1897.0" y="4189.5">20</text></g><rect x="387" y="2339" width="1510.3" height="525.6999999999998" fill="#fff" stroke="#000" stroke-width="9.5"/><g stroke-width="8.5"><line x1="413.5" y1="2400.5" x2="564.5" y2="2400.5" stroke="#000000"/><line x1="413.5" y1="2480.1" x2="564.5" y2="2480.1" stroke="#0A0AB4"/><line x1="413.5" y1="2559.7" x2="564.5" y2="2559.7" stroke="#E01818"/><line x1="413.5" y1="2639.3" x2="564.5" y2="2639.3" stroke="#DC7228"/><line x1="413.5" y1="2718.9" x2="564.5" y2="2718.9" stroke="#3CE83C"/><line x1="413.5" y1="2798.5" x2="564.5" y2="2798.5" stroke="#D01C84"/><line x1="940.6" y1="2400.5" x2="1091.6" y2="2400.5" stroke="#BC9A2A"/><line x1="940.6" y1="2480.1" x2="1091.6" y2="2480.1" stroke="#0E5C1C"/><line x1="940.6" y1="2559.7" x2="1091.6" y2="2559.7" stroke="#6020C4"/><line x1="940.6" y1="2639.3" x2="1091.6" y2="2639.3" stroke="#80F2D4"/><line x1="940.6" y1="2718.9" x2="1091.6" y2="2718.9" stroke="#000000"/><line x1="940.6" y1="2798.5" x2="1091.6" y2="2798.5" stroke="#0A0AA2"/><line x1="1448.3" y1="2400.5" x2="1598.9" y2="2400.5" stroke="#DC1A22"/><line x1="1448.3" y1="2480.1" x2="1598.9" y2="2480.1" stroke="#E4742A"/><line x1="1448.3" y1="2559.7" x2="1598.9" y2="2559.7" stroke="#3CE83C"/><line x1="1448.3" y1="2639.3" x2="1598.9" y2="2639.3" stroke="#DC1C78"/><line x1="1448.3" y1="2718.9" x2="1598.9" y2="2718.9" stroke="#BA9626"/></g><g font-family="'Liberation Sans', Arial, Helvetica, sans-serif" font-size="75.5"><text x="578.4" y="2430.0" fill="#000000">0.1 Hz</text><text x="599.2" y="2509.6" fill="#0A0AB4">0.17 Hz</text><text x="578.4" y="2589.2" fill="#E01818">0.29 Hz</text><text x="578.4" y="2668.8" fill="#DC7228">0.51 Hz</text><text x="578.4" y="2748.4" fill="#3CE83C">0.89 Hz</text><text x="578.4" y="2828.0" fill="#D01C84">1 Hz</text><text x="1105.0" y="2430.0" fill="#BC9A2A">1.67 Hz</text><text x="1105.0" y="2509.6" fill="#0E5C1C">2.81 Hz</text><text x="1105.0" y="2589.2" fill="#6020C4">4.72 Hz</text><text x="1105.0" y="2668.8" fill="#80F2D4">7.92 Hz</text><text x="1105.0" y="2748.4" fill="#000000">13.3 Hz</text><text x="1105.0" y="2828.0" fill="#0A0AA2">22.3 Hz</text><text x="1612.0" y="2430.0" fill="#DC1A22">37.4 Hz</text><text x="1612.0" y="2509.6" fill="#E4742A">62.7 Hz</text><text x="1612.0" y="2589.2" fill="#3CE83C">105 Hz</text><text x="1612.0" y="2668.8" fill="#DC1C78">176 Hz</text><text x="1612.0" y="2748.4" fill="#BA9626">296 Hz</text></g><text x="1145" y="4288.2" font-family="'Liberation Sans', Arial, Helvetica, sans-serif" font-weight="bold" font-size="75" text-anchor="middle"><tspan font-style="italic">T</tspan> (K)</text><text transform="translate(75.5,3637.6) rotate(-90)" font-family="'Liberation Sans', Arial, Helvetica, sans-serif" font-size="75" font-weight="bold" word-spacing="2"><tspan font-weight="normal" font-family="Liberation Serif, serif">χ</tspan><tspan font-style="italic" dx="6">″</tspan> (emu / g)</text></svg>
</body></html>
